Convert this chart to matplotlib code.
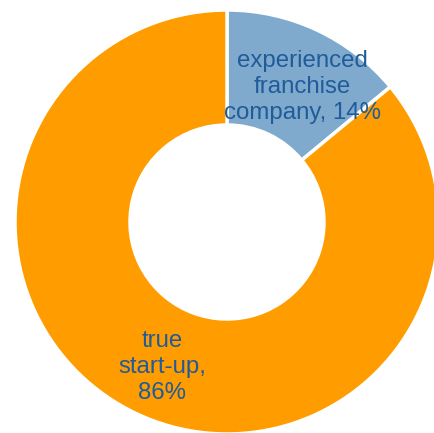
import matplotlib
matplotlib.use("Agg")
import matplotlib.pyplot as plt

categories = ["experienced franchise company", "true start-up"]
values = [14, 86]
labels = ["experienced\nfranchise\ncompany, 14%", "true\nstart-up,\n86%"]
colors = ["#7fa9cd", "#ff9c00"]

plt.rcParams['font.family'] = ['Liberation Sans', 'DejaVu Sans']

W, H = 435, 433
fig = plt.figure(figsize=(W / 100, H / 100), dpi=100)
ax = fig.add_axes([0, 0, 1, 1])

cx, cy, R = 227, 222, 212
ax.pie(values, colors=colors, startangle=90, counterclock=False,
       radius=1.0, wedgeprops=dict(width=1 - 97 / 212, edgecolor="white", linewidth=2.5))
ax.set_aspect('auto')
ax.set_xlim(-cx / R, (W - cx) / R)
ax.set_ylim(-(H - cy) / R, cy / R)
ax.axis('off')

label_pos = [(0.354, 0.638), (-0.307, -0.682)]
for (x, y), t in zip(label_pos, labels):
    ax.text(x, y, t, ha='center', va='center', fontsize=17.3, color="#1f5c99",
            linespacing=1.24)

fig.savefig("out.png", dpi=100)
